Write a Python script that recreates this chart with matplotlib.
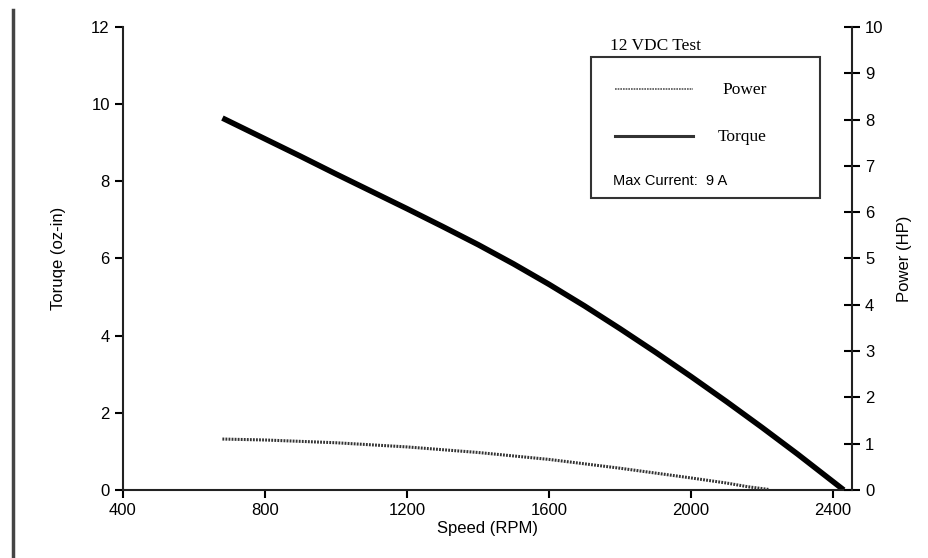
import matplotlib.pyplot as plt
from matplotlib.lines import Line2D

plt.rcParams['font.family'] = ['Liberation Sans', 'DejaVu Sans']

# Torque curve (oz-in) vs speed
torque_rpm = [680, 800, 900, 1000, 1100, 1200, 1300, 1400, 1500, 1600, 1700,
              1800, 1900, 2000, 2100, 2200, 2300, 2430]
torque_val = [9.64, 9.1, 8.65, 8.19, 7.74, 7.29, 6.83, 6.36, 5.86, 5.33, 4.77,
              4.18, 3.57, 2.94, 2.29, 1.62, 0.93, 0.0]

# Power curve (HP) vs speed
power_rpm = [680, 800, 1000, 1200, 1400, 1600, 1800, 2000, 2100, 2160, 2220]
power_val = [1.1, 1.08, 1.02, 0.93, 0.81, 0.66, 0.47, 0.26, 0.15, 0.07, 0.01]

fig = plt.figure(figsize=(9.29, 5.58), dpi=100)
ax = fig.add_axes([0.1324, 0.1219, 0.917 - 0.1324, 0.9516 - 0.1219])
ax2 = ax.twinx()

ax.plot(torque_rpm, torque_val, color='black', lw=4, solid_capstyle='butt')
ax2.plot(power_rpm, power_val, color='#333333', lw=2.2, ls=(0, (0.6, 0.4)))

ax.set_xlim(400, 2453)
ax.set_ylim(0, 12)
ax2.set_ylim(0, 10)
ax.set_xticks([400, 800, 1200, 1600, 2000, 2400])
ax.set_yticks(range(0, 13, 2))
ax2.set_yticks(range(0, 11))

for a in (ax, ax2):
    a.spines['top'].set_visible(False)
    for s in a.spines.values():
        s.set_linewidth(1.5)
        s.set_color('#222222')
ax.spines['right'].set_visible(False)
ax2.spines['left'].set_visible(False)
ax2.spines['bottom'].set_visible(False)

ax.tick_params(axis='both', direction='out', length=6, width=1.5, labelsize=12)
ax2.tick_params(axis='y', direction='inout', length=12, width=1.5, labelsize=12)

ax.set_xlabel('Speed (RPM)', fontsize=12, labelpad=2)
ax.set_ylabel('Toruqe (oz-in)', fontsize=12, labelpad=18)
ax2.set_ylabel('Power (HP)', fontsize=12, labelpad=10)

# legend box
leg_x0, leg_y0 = 591 / 929, 1 - 198 / 558
box = plt.Rectangle((leg_x0, leg_y0), (820 - 591) / 929, (198 - 57) / 558,
                    transform=fig.transFigure, fill=False, lw=1.5, ec='#333333')
fig.add_artist(box)
fig.text(610 / 929, 1 - 46 / 558, '12 VDC Test', family='Liberation Serif',
         fontsize=12.5, va='center')
fig.add_artist(Line2D([615 / 929, 693 / 929], [1 - 89 / 558] * 2, transform=fig.transFigure,
                      color='#555555', lw=1.2, ls=(0, (1, 0.6))))
fig.add_artist(Line2D([615 / 929, 693 / 929], [1 - 136 / 558] * 2, transform=fig.transFigure,
                      color='#333333', lw=2.2))
fig.text(722 / 929, 1 - 90 / 558, 'Power', family='Liberation Serif', fontsize=12.5, va='center')
fig.text(718 / 929, 1 - 137 / 558, 'Torque', family='Liberation Serif', fontsize=12.5, va='center')
fig.text(613 / 929, 1 - 181 / 558, 'Max Current:  9 A', fontsize=10.5, va='center')

# left page border line
fig.add_artist(Line2D([13 / 929, 13 / 929], [0, 1 - 10 / 558], transform=fig.transFigure,
                      color='#444444', lw=2.5))

fig.savefig('out.png', dpi=100)
